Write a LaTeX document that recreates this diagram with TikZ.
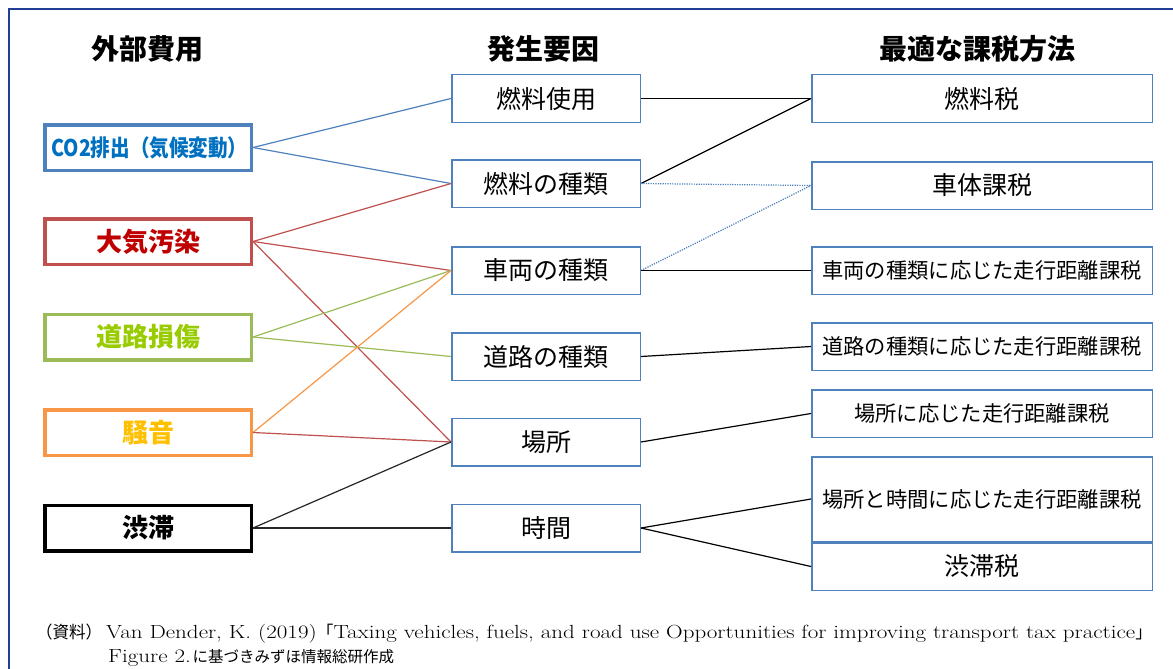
\documentclass[tikz,border=0pt]{standalone}
\usepackage{fontspec}
\usepackage{graphicx}
\newfontfamily\jp{Noto Sans CJK JP}
\definecolor{framec}{HTML}{203F95}
\definecolor{boxblue}{HTML}{4F81BD}
\definecolor{co2text}{HTML}{0070C0}
\definecolor{redbox}{HTML}{C0504D}
\definecolor{redtext}{HTML}{C00000}
\definecolor{greenbox}{HTML}{9BBB59}
\definecolor{greentext}{HTML}{99CC00}
\definecolor{orangebox}{HTML}{F79646}
\definecolor{orangetext}{HTML}{FFC000}
\newcommand\srcjp[1]{\scalebox{0.82}[1]{\fontsize{17}{20}\selectfont\jp #1}}
\newcommand\srclat{\fontsize{19}{21}\selectfont}
\newcommand\srclineone{Van Dender, K. (2019)\srcjp{「}Taxing vehicles, fuels, and road use Opportunities for improving transport tax practice\srcjp{」}}
\newlength\srcw
\tikzset{
  frameline/.style={draw=framec, line width=2.5},
  lbox/.style={draw, line width=3.5, minimum width=206.5, minimum height=45.5, inner sep=0, fill=white,
    font=\fontsize{26}{30}\selectfont\jp\bfseries},
  cbox/.style={draw=boxblue, line width=1.5, minimum width=188.5, minimum height=47.5, inner sep=0, fill=white,
    font=\fontsize{25}{30}\selectfont\jp},
  rbox/.style={cbox, minimum width=340.5},
  rsmall/.style={rbox, font=\fontsize{21.3}{26}\selectfont\jp},
  head/.style={inner sep=0, font=\fontsize{28}{32}\selectfont\jp\bfseries},
  link/.style={line width=1.2},
  dotlink/.style={draw=boxblue, line width=1.2, dash pattern=on 1.2pt off 1.2pt},
  src/.style={inner sep=0, anchor=base west},
}
\begin{document}
\settowidth\srcw{\srclat\srclineone}%
\pgfmathsetmacro\srcscale{1046/\srcw}%
\begin{tikzpicture}[x=1pt,y=-1pt]
\useasboundingbox (0,0) rectangle (1173,669);
\fill[white] (0,0) rectangle (1173,669);
\draw[frameline] (1173,9) -- (9,9) -- (9,669);

% headers
\node[head] (h1) at (147,49) {外部費用};
\node[head] (h2) at (543,49) {発生要因};
\node[head] (h3) at (977,49) {最適な課税方法};

% left column
\node[lbox, draw=boxblue, text=co2text] (co2) at (148,147.5) {\hspace*{3pt}\resizebox{196pt}{\height}{\fontsize{23}{26}\selectfont CO2排出（気候変動）}};
\node[lbox, draw=redbox, text=redtext] (air) at (148,241.5) {大気汚染};
\node[lbox, draw=greenbox, text=greentext] (road) at (148,337) {道路損傷};
\node[lbox, draw=orangebox, text=orangetext] (noise) at (148,432.5) {騒音};
\node[lbox, draw=black, text=black] (cong) at (148,528) {渋滞};

% middle column
\node[cbox] (fuse) at (546,98.5) {燃料使用};
\node[cbox] (ftype) at (546,183.5) {燃料の種類};
\node[cbox] (vtype) at (546,270.5) {車両の種類};
\node[cbox] (rtype) at (546,356.5) {道路の種類};
\node[cbox] (place) at (546,442) {場所};
\node[cbox] (time) at (546,528) {時間};

% right column
\node[rbox] (ftax) at (982,98.5) {燃料税};
\node[rbox] (vtax) at (982,185.5) {車体課税};
\node[rsmall] (vdist) at (982,270.5) {車両の種類に応じた走行距離課税};
\node[rsmall] (rdist) at (982,346.5) {道路の種類に応じた走行距離課税};
\node[rsmall] (pdist) at (982,413.5) {場所に応じた走行距離課税};
\node[rsmall, minimum height=84.5] (ptdist) at (982,499) {場所と時間に応じた走行距離課税};
\node[rbox] (ctax) at (982,566.5) {渋滞税};

% left -> middle connectors
\draw[link, boxblue] (co2.east) -- (fuse.west);
\draw[link, boxblue] (co2.east) -- (ftype.west);
\draw[link, redbox] (air.east) -- (ftype.west);
\draw[link, redbox] (air.east) -- (vtype.west);
\draw[link, redbox] (air.east) -- (place.west);
\draw[link, greenbox] (road.east) -- (vtype.west);
\draw[link, greenbox] (road.east) -- (rtype.west);
\draw[link, orangebox] (noise.east) -- (vtype.west);
\draw[link, redbox] (noise.east) -- (place.west);
\draw[link, black!85] (cong.east) -- (place.west);
\draw[link, black!85, line width=1.6] (cong.east) -- (time.west);

% middle -> right connectors
\draw[link, black] (fuse.east) -- (ftax.west);
\draw[link, black] (ftype.east) -- (ftax.west);
\draw[dotlink] (ftype.east) -- (vtax.west);
\draw[dotlink] (vtype.east) -- (vtax.west);
\draw[link, black, line width=1.5] (vtype.east) -- (vdist.west);
\draw[link, black] (rtype.east) -- (rdist.west);
\draw[link, black] (place.east) -- (pdist.west);
\draw[link, black] (time.east) -- (ptdist.west);
\draw[link, black] (time.east) -- (ctax.west);

% source
\node[src] (s0) at (36,638) {\resizebox{66pt}{\height}{\fontsize{17}{20}\selectfont\jp （資料）}};
\node[src] (s1) at (106,638) {\scalebox{\srcscale}[1]{\srclat\srclineone}};
\node[src] (s2) at (108,662) {\scalebox{\srcscale}[1]{\srclat Figure 2.}\,{\fontsize{15.5}{20}\selectfont\jp に基づきみずほ情報総研作成}};
\end{tikzpicture}
\end{document}
